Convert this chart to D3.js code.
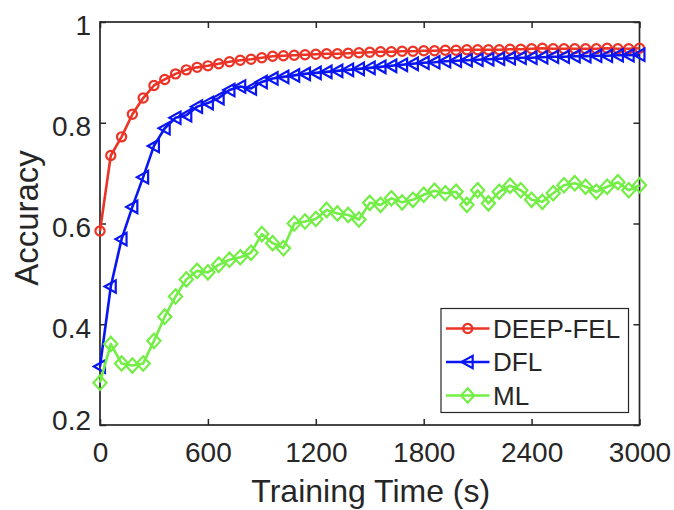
<!DOCTYPE html>
<html>
<head>
<meta charset="utf-8">
<script src="https://cdn.jsdelivr.net/npm/d3@7"></script>
<style>
  html, body { margin: 0; padding: 0; background: #ffffff; }
  svg { display: block; }
  text { font-family: "Liberation Sans", Arial, Helvetica, sans-serif; fill: #262626; }
</style>
</head>
<body>
<svg id="chart" width="674" height="510"></svg>
<script>
// ---- data ----
const times = [0, 60, 120, 180, 240, 300, 360, 420, 480, 540, 600, 660, 720, 780, 840, 900, 960,
  1020, 1080, 1140, 1200, 1260, 1320, 1380, 1440, 1500, 1560, 1620, 1680, 1740, 1800, 1860, 1920,
  1980, 2040, 2100, 2160, 2220, 2280, 2340, 2400, 2460, 2520, 2580, 2640, 2700, 2760, 2820, 2880,
  2940, 3000];

const deepFel = [0.585, 0.735, 0.772, 0.817, 0.849, 0.874, 0.886, 0.897, 0.905, 0.910, 0.913,
  0.917, 0.921, 0.924, 0.926, 0.929, 0.932,
  0.933, 0.934, 0.935, 0.936, 0.937, 0.937, 0.938, 0.939, 0.940, 0.941, 0.941, 0.942, 0.942,
  0.943, 0.943, 0.944, 0.944, 0.945, 0.945, 0.945, 0.945, 0.946, 0.946, 0.947, 0.948, 0.947,
  0.947, 0.947, 0.947, 0.947, 0.948, 0.947, 0.947, 0.948];

const dfl = [0.316, 0.475, 0.569, 0.633, 0.692, 0.754, 0.789, 0.810, 0.815, 0.832, 0.839,
  0.849, 0.865, 0.872, 0.868, 0.881, 0.888,
  0.891, 0.894, 0.897, 0.899, 0.901, 0.903, 0.905, 0.907, 0.909, 0.911, 0.913, 0.915, 0.917,
  0.919, 0.920, 0.922, 0.923, 0.924, 0.925, 0.926, 0.927, 0.928, 0.929, 0.929, 0.930, 0.931,
  0.931, 0.932, 0.932, 0.933, 0.933, 0.934, 0.934, 0.935];

const ml = [0.284, 0.361, 0.322, 0.318, 0.322, 0.367, 0.415, 0.455, 0.489, 0.506, 0.503,
  0.518, 0.528, 0.533, 0.542, 0.579, 0.561, 0.551, 0.600, 0.604, 0.609, 0.627, 0.620, 0.617,
  0.608, 0.641, 0.637, 0.650, 0.642, 0.647, 0.657, 0.665, 0.660, 0.663, 0.637, 0.666, 0.640,
  0.663, 0.675, 0.666, 0.647, 0.643, 0.660, 0.676, 0.680, 0.673, 0.663, 0.673, 0.682, 0.666,
  0.676];

const seriesNames = ["DEEP-FEL", "DFL", "ML"];
const xTicks = [0, 600, 1200, 1800, 2400, 3000];
const yTicks = [0.2, 0.4, 0.6, 0.8, 1.0];
const xLabel = "Training Time (s)";
const yLabel = "Accuracy";

// ---- layout ----
const svg = d3.select("#chart");
const L = 100, R = 639.5, T = 22, B = 425;
const axisColor = "#262626";
const colors = ["#ec3426", "#0a16f2", "#72ee45"];
const markers = ["circle", "triangleLeft", "diamond"];

const x = d3.scaleLinear().domain([0, 3000]).range([L, R]);
const y = d3.scaleLinear().domain([0.2, 1.0]).range([B, T]);

const series = [deepFel, dfl, ml].map((vals, i) => ({
  name: seriesNames[i], color: colors[i], marker: markers[i],
  points: vals.map((v, j) => [times[j], v])
}));

// axes
const fmtY = d => (d === 1 ? "1" : d3.format(".1f")(d));
const fmtX = d3.format("d");
const gx = svg.append("g").attr("transform", `translate(0,${B})`)
  .call(d3.axisBottom(x).tickValues(xTicks).tickSizeInner(-6).tickSizeOuter(0).tickPadding(17).tickFormat(fmtX));
const gxt = svg.append("g").attr("transform", `translate(0,${T})`)
  .call(d3.axisTop(x).tickValues(xTicks).tickSizeInner(-6).tickSizeOuter(0).tickFormat(""));
const gy = svg.append("g").attr("transform", `translate(${L},0)`)
  .call(d3.axisLeft(y).tickValues(yTicks).tickSizeInner(-6).tickSizeOuter(0).tickPadding(9).tickFormat(fmtY));
const gyr = svg.append("g").attr("transform", `translate(${R},0)`)
  .call(d3.axisRight(y).tickValues(yTicks).tickSizeInner(-6).tickSizeOuter(0).tickFormat(""));

[gx, gxt, gy, gyr].forEach(g => {
  g.select(".domain").remove();
  g.selectAll(".tick line").attr("stroke", axisColor).attr("stroke-width", 1.5);
  g.selectAll("text").attr("fill", axisColor).style("font-size", "28px")
    .style("font-family", '"Liberation Sans", Arial, Helvetica, sans-serif');
});
gy.selectAll(".tick text").attr("transform", d => d === 0.2 ? "translate(0,-4)" : "translate(0,4)");

// box
svg.append("rect").attr("x", L).attr("y", T).attr("width", R - L).attr("height", B - T)
  .attr("fill", "none").attr("stroke", axisColor).attr("stroke-width", 1.7);

// symbols
function markerPath(type) {
  if (type === "circle") {
    return d3.symbol().type(d3.symbolCircle).size(Math.PI * 4.6 * 4.6)();
  }
  if (type === "diamond") {
    const h = 7.2, w = 6.6;
    return `M0,${-h}L${w},0L0,${h}L${-w},0Z`;
  }
  // left-pointing triangle
  const s = 6.2;
  return `M${-s},0L${s * 0.8},${-s}L${s * 0.8},${s}Z`;
}

const line = d3.line().x(d => x(d[0])).y(d => y(d[1]));
const plot = svg.append("g");
series.forEach(s => {
  const g = plot.append("g");
  g.append("path").attr("d", line(s.points)).attr("fill", "none")
    .attr("stroke", s.color).attr("stroke-width", 2.6).attr("stroke-linejoin", "round");
  g.selectAll("path.mk").data(s.points).enter().append("path").attr("class", "mk")
    .attr("d", markerPath(s.marker))
    .attr("transform", d => `translate(${x(d[0])},${y(d[1])})`)
    .attr("fill", "none").attr("stroke", s.color).attr("stroke-width", 2.2);
});

// axis labels
svg.append("text").attr("x", (L + R) / 2 + 1).attr("y", 502).attr("text-anchor", "middle")
  .style("font-size", "32px").text(xLabel);
svg.append("text").attr("transform", `translate(38,${218})rotate(-90)`).attr("text-anchor", "middle")
  .style("font-size", "33px").text(yLabel);

// legend
const lg = svg.append("g");
lg.append("rect").attr("x", 441).attr("y", 308.5).attr("width", 187.5).attr("height", 104)
  .attr("fill", "#ffffff").attr("stroke", axisColor).attr("stroke-width", 1.2);
const rowY = [328.5, 362, 395.5];
series.forEach((s, i) => {
  const yy = rowY[i];
  lg.append("line").attr("x1", 446).attr("x2", 489.5).attr("y1", yy).attr("y2", yy)
    .attr("stroke", s.color).attr("stroke-width", 2.6);
  lg.append("path").attr("d", markerPath(s.marker))
    .attr("transform", `translate(467.7,${yy})`)
    .attr("fill", "none").attr("stroke", s.color).attr("stroke-width", 2.2);
  lg.append("text").attr("x", 493).attr("y", yy + 9.3).style("font-size", "26px").text(s.name);
});
</script>
</body>
</html>
